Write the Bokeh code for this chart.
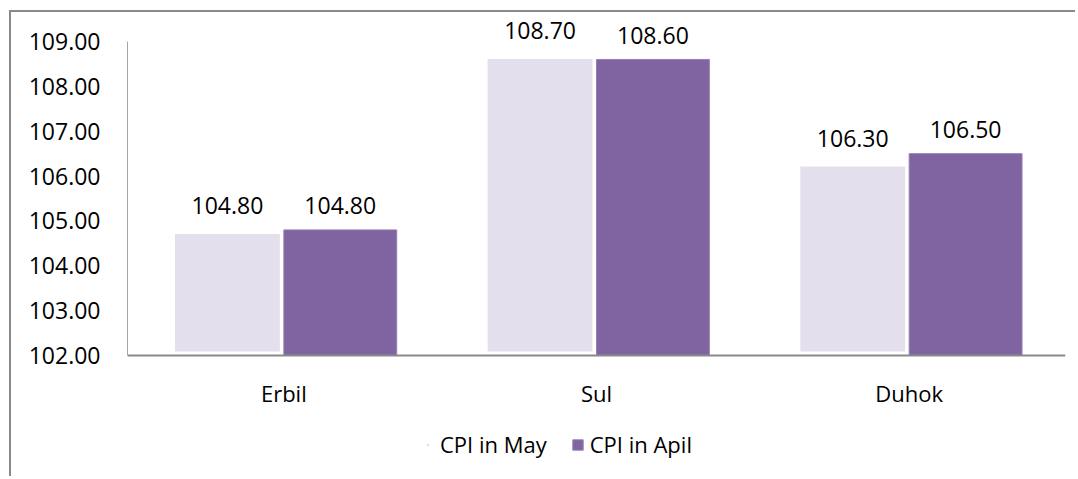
from bokeh.plotting import figure
from bokeh.models import (ColumnDataSource, FactorRange, Range1d, FixedTicker,
                          NumeralTickFormatter, Legend, LegendItem)
from bokeh.transform import dodge
from bokeh.core.properties import value
from bokeh.embed import file_html
from bokeh.resources import INLINE

# ---- data ----
regions = ["Erbil", "Sul", "Duhok"]
cpi_may = [104.80, 108.70, 106.30]
cpi_april = [104.80, 108.60, 106.50]
series_names = ["CPI in May", "CPI in Apil"]
y_ticks = [102, 103, 104, 105, 106, 107, 108, 109]
y_min, y_max = 102, 109

# ---- styles / layout ----
FONT = "Open Sans"
C_MAY = "#E4DFEC"
C_APR = "#8064A2"
PX = 314 / 7            # pixels per y unit
Y_TOP = y_max + 27 / PX  # room above the axis for value labels
Y_BOT = y_min - 123 / PX # room below for category labels and legend

src = ColumnDataSource(dict(
    region=regions,
    may=cpi_may,
    apr=cpi_april,
    may_lbl=["%.2f" % v for v in cpi_may],
    apr_lbl=["%.2f" % v for v in cpi_april],
))

p = figure(x_range=FactorRange(*regions, range_padding=0),
           y_range=Range1d(Y_BOT, Y_TOP),
           width=1066, height=466,
           output_backend="svg", toolbar_location=None,
           min_border_left=116, min_border_right=12,
           min_border_top=2, min_border_bottom=0)
p.styles = {"margin-left": "9px", "margin-top": "10px",
            "border-left": "2px solid #898989", "border-top": "2px solid #898989"}
p.outline_line_color = None
p.xgrid.grid_line_color = None
p.ygrid.grid_line_color = None
p.background_fill_color = "white"
p.border_fill_color = "white"

bw = 0.361
r_may = p.vbar(x=dodge("region", -bw / 2, range=p.x_range), top="may", bottom=y_min,
               width=bw, source=src, fill_color=C_MAY, line_color="white", line_width=8)
r_apr = p.vbar(x=dodge("region", bw / 2, range=p.x_range), top="apr", bottom=y_min,
               width=bw, source=src, fill_color=C_APR, line_color="#9580B4", line_width=1)

p.text(x=dodge("region", -bw / 2, range=p.x_range), y="may", text="may_lbl", source=src,
       text_font=value(FONT), text_font_size="23px", text_color="black",
       text_align="center", text_baseline="middle", y_offset=-24)
p.text(x=dodge("region", bw / 2, range=p.x_range), y="apr", text="apr_lbl", source=src,
       text_font=value(FONT), text_font_size="23px", text_color="black",
       text_align="center", text_baseline="middle", y_offset=-24)

# axes
p.yaxis.bounds = (y_min, y_max)
p.yaxis.ticker = FixedTicker(ticks=y_ticks)
p.yaxis.formatter = NumeralTickFormatter(format="0.00")
p.yaxis.major_tick_line_color = None
p.yaxis.minor_tick_line_color = None
p.yaxis.major_tick_out = 0
p.yaxis.major_tick_in = 0
p.yaxis.axis_line_color = "#A6A6A6"
p.yaxis.axis_line_width = 1
p.yaxis.major_label_standoff = 27
p.yaxis.major_label_text_font = FONT
p.yaxis.major_label_text_font_size = "23px"
p.yaxis.major_label_text_color = "black"

p.xaxis.fixed_location = y_min
p.xaxis.major_tick_line_color = None
p.xaxis.minor_tick_line_color = None
p.xaxis.major_tick_out = 0
p.xaxis.major_tick_in = 0
p.xaxis.axis_line_color = "#898989"
p.xaxis.axis_line_width = 2
p.xaxis.major_label_standoff = 22
p.xaxis.major_label_text_font = FONT
p.xaxis.major_label_text_font_size = "22px"
p.xaxis.major_label_text_color = "black"

legend = Legend(items=[LegendItem(label=series_names[0], renderers=[r_may]),
                       LegendItem(label=series_names[1], renderers=[r_apr])],
                location=(294, 19), orientation="horizontal",
                glyph_width=13, glyph_height=13, label_standoff=6, spacing=24,
                padding=0, margin=0, border_line_color=None,
                background_fill_alpha=0,
                label_text_font=FONT, label_text_font_size="22px",
                label_text_color="black")
p.add_layout(legend, "center")

open("out.html", "w").write(file_html(p, INLINE))
